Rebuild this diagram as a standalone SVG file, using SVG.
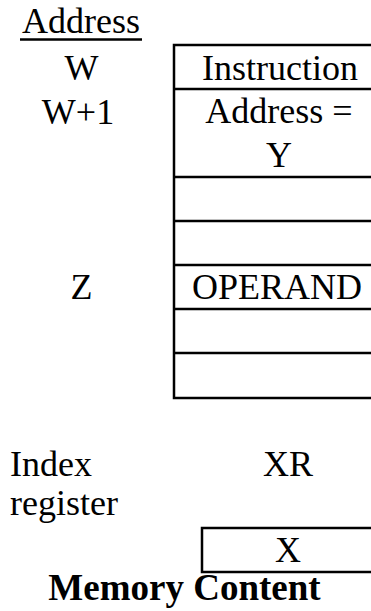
<svg xmlns="http://www.w3.org/2000/svg" width="371" height="611" viewBox="0 0 371 611">
<style>
text{font-size:36px;fill:#000}
.c{text-anchor:middle}
.b{font-weight:bold;font-size:37px}
.ln{stroke:#000;stroke-width:2.5;fill:none}
</style>
<rect width="371" height="611" fill="#fff"/>
<g font-family="'Liberation Serif', 'Times New Roman', serif">
<g id="address-header">
<text class="c" x="81" y="33">Address</text>
<line class="ln" x1="20" y1="39.5" x2="142" y2="39.5" stroke-width="2"/>
</g>
<g id="addr-labels">
<text class="c" x="81.5" y="80">W</text>
<text class="c" x="78" y="124">W+1</text>
<text class="c" x="81.5" y="299">Z</text>
</g>
<g id="memory">
<rect class="ln" x="174" y="45" width="215" height="353"/>
<line class="ln" x1="174" y1="89" x2="389" y2="89"/>
<line class="ln" x1="174" y1="177" x2="389" y2="177"/>
<line class="ln" x1="174" y1="221" x2="389" y2="221"/>
<line class="ln" x1="174" y1="265" x2="389" y2="265"/>
<line class="ln" x1="174" y1="309" x2="389" y2="309"/>
<line class="ln" x1="174" y1="353" x2="389" y2="353"/>
<text class="c" x="280" y="80">Instruction</text>
<text class="c" x="279" y="123">Address =</text>
<text class="c" x="279" y="167">Y</text>
<text class="c" x="277" y="299">OPERAND</text>
</g>
<g id="index-register">
<text x="10" y="476">Index</text>
<text x="10" y="515">register</text>
<text class="c" x="288" y="476">XR</text>
<rect class="ln" x="202" y="528" width="190" height="44"/>
<text class="c" x="288" y="562">X</text>
</g>
<g id="caption">
<text class="c b" x="184.5" y="600">Memory Content</text>
</g>
</g>
<g id="connectors"></g>
</svg>
